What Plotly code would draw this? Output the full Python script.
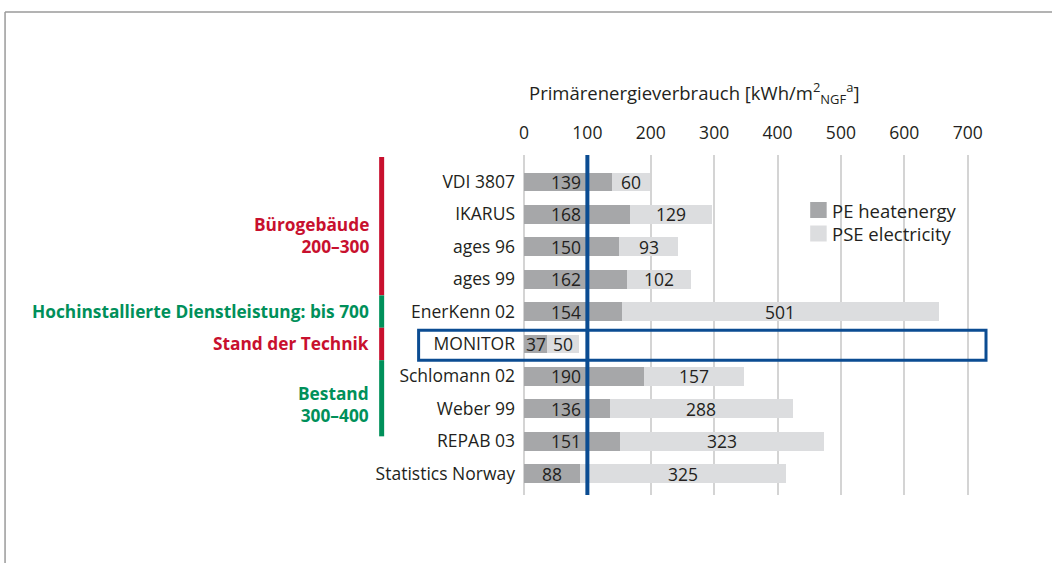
import plotly.graph_objects as go

# ---------------- data ----------------
categories = ["VDI 3807", "IKARUS", "ages 96", "ages 99", "EnerKenn 02", "MONITOR",
              "Schlomann 02", "Weber 99", "REPAB 03", "Statistics Norway"]
pe_heat = [139, 168, 150, 162, 154, 37, 190, 136, 151, 88]
pse_elec = [60, 129, 93, 102, 501, 50, 157, 288, 323, 325]
series_names = ["PE heatenergy", "PSE electricity"]
x_ticks = [0, 100, 200, 300, 400, 500, 600, 700]
reference_value = 100

groups = [  # label, colour, first row, last row
    ("Bürogebäude<br>200–300", "#C8102E", 0, 3),
    ("Hochinstallierte Dienstleistung: bis 700", "#00905A", 4, 4),
    ("Stand der Technik", "#C8102E", 5, 5),
    ("Bestand<br>300–400", "#00905A", 6, 8),
]
highlight_row = 5

# ---------------- style / layout ----------------
W, H = 1052, 563
OFF = 0  # body margin removed via post_script
SL, SR, ST, SB = 523.5, 993, 155, 495
L, T = SL - OFF, ST - OFF
R, B = W - (SR - OFF), H - (SB - OFF)
PW, PH = W - L - R, H - T - B
FONT = "Open Sans"
TXT = "#231F20"
DARK = "#A6A7A9"
LIGHT = "#DCDDDF"
BLUE = "#0B4C92"

def px(xs):  # screen pixel -> paper x
    return (xs - OFF - L) / PW

def py(ys):  # screen pixel -> paper y
    return 1 - (ys - OFF - T) / PH

rows = list(range(len(categories)))

fig = go.Figure()
fig.add_trace(go.Bar(y=rows, x=pe_heat, orientation="h", name=series_names[0],
                     marker=dict(color=DARK, line_width=0), width=0.58,
                     showlegend=False, hoverinfo="x+name"))
fig.add_trace(go.Bar(y=rows, x=pse_elec, orientation="h", name=series_names[1],
                     marker=dict(color=LIGHT, line_width=0), width=0.58,
                     showlegend=False, hoverinfo="x+name"))

NUMF = dict(size=17.5, color=TXT, family=FONT)
annotations = []
# value labels
for i, (a, b) in enumerate(zip(pe_heat, pse_elec)):
    if a >= reference_value:
        annotations.append(dict(x=reference_value - 7, y=i, text=str(a), showarrow=False,
                                xanchor="right", font=NUMF))
    else:
        annotations.append(dict(x=a / 2, y=i, text=str(a), showarrow=False,
                                xanchor="center", font=NUMF))
    annotations.append(dict(x=a + b / 2, y=i, text=str(b), showarrow=False,
                            xanchor="center", font=NUMF))

shapes = []
# group bars and labels
for label, col, r0, r1 in groups:
    y0 = r0 - 0.5 if r0 > 0 else -0.77
    y1 = r1 + 0.5 if r1 < 6 else r1 - 0.15
    shapes.append(dict(type="line", xref="paper", yref="y", x0=px(381), x1=px(381),
                       y0=y0, y1=y1, line=dict(color=col, width=5)))
    ymid = (r0 + r1) / 2 + (0.15 if r1 > r0 else 0)
    if r0 == 6:
        ymid = 6.88
    annotations.append(dict(xref="paper", yref="y", x=px(370), y=ymid, text=f"<b>{label}</b>",
                            showarrow=False, xanchor="right", align="right",
                            font=dict(size=17.3, color=col, family=FONT)))

# reference line at 100
shapes.append(dict(type="line", xref="x", yref="paper", x0=reference_value, x1=reference_value,
                   y0=0, y1=1, line=dict(color=BLUE, width=4), layer="above"))
# highlight box
shapes.append(dict(type="rect", xref="paper", yref="y", x0=px(418), x1=px(986),
                   y0=highlight_row - 0.42, y1=highlight_row + 0.5,
                   line=dict(color=BLUE, width=3), fillcolor="rgba(0,0,0,0)", layer="above"))
# outer frame (cropped)
shapes.append(dict(type="line", xref="paper", yref="paper", x0=px(4), x1=px(1070),
                   y0=py(12), y1=py(12), line=dict(color="#9A9A9A", width=1.5)))
shapes.append(dict(type="line", xref="paper", yref="paper", x0=px(4), x1=px(4),
                   y0=py(12), y1=py(580), line=dict(color="#9A9A9A", width=1.5)))

# manual legend
for k, (nm, col) in enumerate(zip(series_names, [DARK, LIGHT])):
    yc = 210 + k * 23.5
    shapes.append(dict(type="rect", xref="paper", yref="paper", x0=px(810), x1=px(826.5),
                       y0=py(yc - 8), y1=py(yc + 8), fillcolor=col, line_width=0))
    annotations.append(dict(xref="paper", yref="paper", x=px(830), y=py(yc), text=nm,
                            showarrow=False, xanchor="left", yanchor="middle",
                            font=dict(size=18.5, color=TXT, family=FONT)))

# axis title
annotations.append(dict(xref="paper", yref="paper", x=px(694), y=py(93),
                        text="Primärenergieverbrauch [kWh/m<sup>2</sup><sub>NGF</sub><sup>a</sup>]",
                        showarrow=False, xanchor="center", yanchor="middle",
                        font=dict(size=18.5, color=TXT, family=FONT)))

fig.update_layout(
    width=W, height=H,
    margin=dict(l=L, r=R, t=T, b=B, pad=0),
    barmode="stack",
    plot_bgcolor="white", paper_bgcolor="white",
    font=dict(family=FONT, color=TXT),
    shapes=shapes, annotations=annotations,
    xaxis=dict(side="top", range=[0, 740], tickvals=x_ticks,
               ticktext=[str(v) for v in x_ticks],
               showgrid=True, gridcolor="#D4D4D4", gridwidth=1.5,
               zeroline=True, zerolinecolor="#D4D4D4", zerolinewidth=1.5,
               showline=False, ticks="", ticklabelstandoff=12,
               tickfont=dict(size=17.5, color=TXT, family=FONT)),
    yaxis=dict(range=[9.66, -0.83], tickvals=rows, ticktext=categories,
               showgrid=False, zeroline=False, showline=False, ticks="",
               ticklabelstandoff=8,
               tickfont=dict(size=17.5, color=TXT, family=FONT)),
)

fig.write_html("out.html", config={"displayModeBar": False},
               post_script="document.body.style.margin='0px';document.body.style.overflow='hidden';")
